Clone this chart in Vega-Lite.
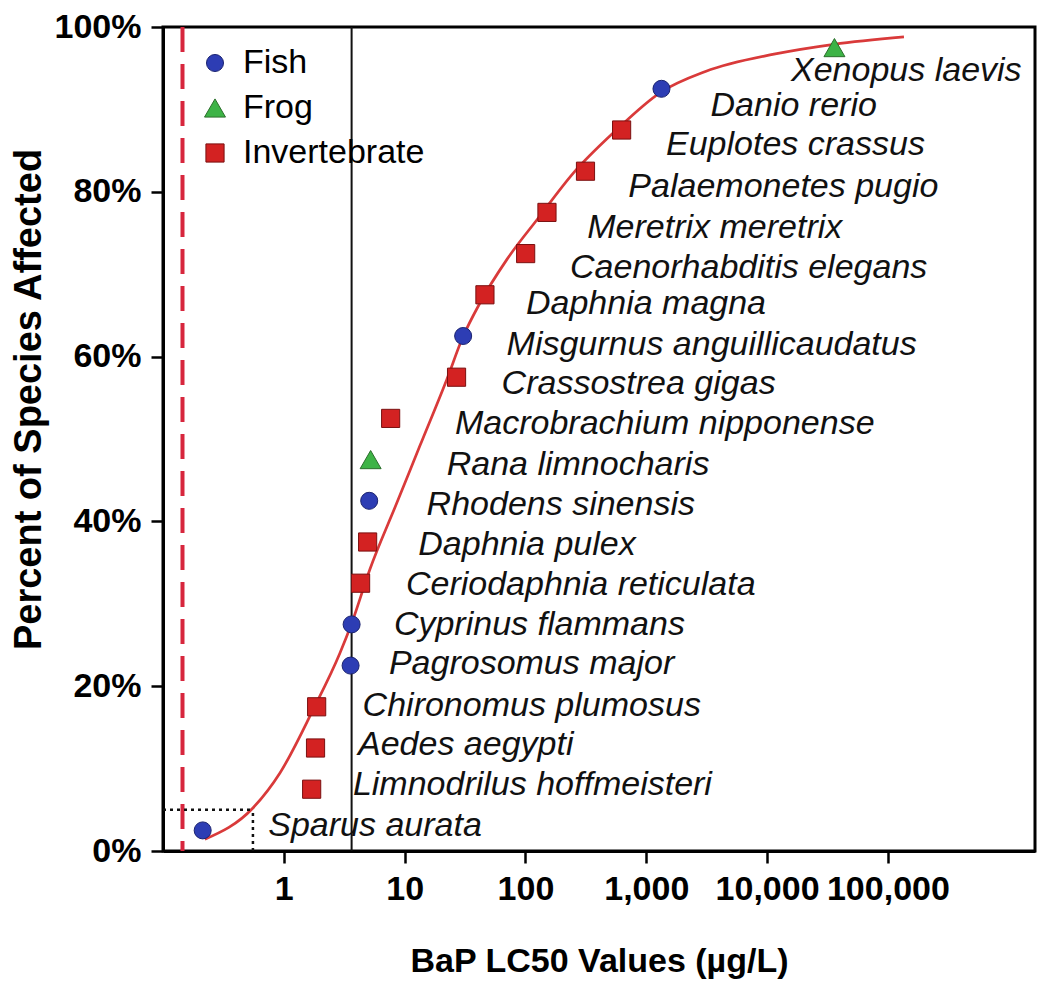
{
  "$schema": "https://vega.github.io/schema/vega-lite/v6.json",
  "width": 872,
  "height": 824,
  "autosize": {"type": "none"},
  "padding": {"left": 163, "top": 27, "right": 2, "bottom": 132},
  "background": "white",
  "config": {
    "view": {"stroke": "black", "strokeWidth": 3},
    "font": "Liberation Sans",
    "axis": {
      "grid": false,
      "domainColor": "black",
      "domainWidth": 3,
      "tickColor": "black",
      "tickWidth": 2.5,
      "tickSize": 12,
      "labelFont": "Liberation Sans",
      "labelFontSize": 34,
      "labelFontWeight": "bold",
      "labelColor": "black",
      "titleFont": "Liberation Sans",
      "titleFontWeight": "bold",
      "titleColor": "black"
    }
  },
  "datasets": {
    "species": [
      {"species": "Sparus aurata", "group": "Fish", "lc50": 0.213, "pct": 2.5, "labelX": 0.743, "labelPct": 3.0},
      {"species": "Limnodrilus hoffmeisteri", "group": "Invertebrate", "lc50": 1.70, "pct": 7.5, "labelX": 3.73, "labelPct": 8.0},
      {"species": "Aedes aegypti", "group": "Invertebrate", "lc50": 1.83, "pct": 12.5, "labelX": 4.11, "labelPct": 12.9},
      {"species": "Chironomus plumosus", "group": "Invertebrate", "lc50": 1.87, "pct": 17.5, "labelX": 4.49, "labelPct": 17.6},
      {"species": "Pagrosomus major", "group": "Fish", "lc50": 3.57, "pct": 22.5, "labelX": 7.41, "labelPct": 22.7},
      {"species": "Cyprinus flammans", "group": "Fish", "lc50": 3.64, "pct": 27.5, "labelX": 8.15, "labelPct": 27.4},
      {"species": "Ceriodaphnia reticulata", "group": "Invertebrate", "lc50": 4.32, "pct": 32.5, "labelX": 10.25, "labelPct": 32.3},
      {"species": "Daphnia pulex", "group": "Invertebrate", "lc50": 4.94, "pct": 37.5, "labelX": 12.97, "labelPct": 37.1},
      {"species": "Rhodens sinensis", "group": "Fish", "lc50": 5.09, "pct": 42.5, "labelX": 15.2, "labelPct": 42.0},
      {"species": "Rana limnocharis", "group": "Frog", "lc50": 5.23, "pct": 47.5, "labelX": 22.3, "labelPct": 46.9},
      {"species": "Macrobrachium nipponense", "group": "Invertebrate", "lc50": 7.66, "pct": 52.5, "labelX": 26.1, "labelPct": 51.8},
      {"species": "Crassostrea gigas", "group": "Invertebrate", "lc50": 26.9, "pct": 57.5, "labelX": 63.5, "labelPct": 56.7},
      {"species": "Misgurnus anguillicaudatus", "group": "Fish", "lc50": 30.5, "pct": 62.5, "labelX": 69.8, "labelPct": 61.4},
      {"species": "Daphnia magna", "group": "Invertebrate", "lc50": 46.2, "pct": 67.5, "labelX": 101, "labelPct": 66.4},
      {"species": "Caenorhabditis elegans", "group": "Invertebrate", "lc50": 100.4, "pct": 72.5, "labelX": 234, "labelPct": 70.8},
      {"species": "Meretrix meretrix", "group": "Invertebrate", "lc50": 150.7, "pct": 77.5, "labelX": 325, "labelPct": 75.6},
      {"species": "Palaemonetes pugio", "group": "Invertebrate", "lc50": 314, "pct": 82.5, "labelX": 711, "labelPct": 80.6},
      {"species": "Euplotes crassus", "group": "Invertebrate", "lc50": 625, "pct": 87.5, "labelX": 1456, "labelPct": 85.7},
      {"species": "Danio rerio", "group": "Fish", "lc50": 1336, "pct": 92.5, "labelX": 3404, "labelPct": 90.4},
      {"species": "Xenopus laevis", "group": "Frog", "lc50": 36100, "pct": 97.5, "labelX": 15780, "labelPct": 94.7}
    ],
    "curve": [
      {"conc": 0.222, "pct": 1.42},
      {"conc": 0.555, "pct": 5.22},
      {"conc": 0.929, "pct": 9.47},
      {"conc": 1.74, "pct": 17.1},
      {"conc": 2.91, "pct": 24.0},
      {"conc": 3.66, "pct": 27.7},
      {"conc": 5.16, "pct": 34.2},
      {"conc": 8.59, "pct": 42.2},
      {"conc": 13.4, "pct": 49.2},
      {"conc": 22.3, "pct": 57.2},
      {"conc": 30.4, "pct": 62.4},
      {"conc": 42.0, "pct": 66.5},
      {"conc": 70.3, "pct": 71.8},
      {"conc": 126, "pct": 76.7},
      {"conc": 250, "pct": 82.3},
      {"conc": 547, "pct": 87.3},
      {"conc": 1324, "pct": 92.1},
      {"conc": 3090, "pct": 94.6},
      {"conc": 11400, "pct": 96.7},
      {"conc": 35800, "pct": 97.9},
      {"conc": 135800, "pct": 98.8}
    ],
    "dashedRef": [{"conc": 0.145}],
    "solidRef": [{"conc": 3.64}],
    "hc5": [
      {"x": 0.1, "x2": 0.555, "y": 5, "y2": 5},
      {"x": 0.555, "x2": 0.555, "y": 0, "y2": 5}
    ]
  },
  "layer": [
    {
      "data": {"name": "curve"},
      "mark": {"type": "line", "color": "#d93a3a", "strokeWidth": 2.7, "interpolate": "monotone"},
      "encoding": {
        "x": {
          "field": "conc", "type": "quantitative",
          "title": "BaP LC50 Values (µg/L)",
          "scale": {"type": "log", "domain": [0.1, 1650000], "nice": false},
          "axis": {
            "values": [1, 10, 100, 1000, 10000, 100000],
            "format": ",",
            "labelPadding": 9,
            "titleFontSize": 34,
            "titlePadding": 38,
            "labelFlush": false,
            "labelOverlap": false
          }
        },
        "y": {
          "field": "pct", "type": "quantitative",
          "title": "Percent of Species Affected",
          "scale": {"domain": [0, 100], "nice": false},
          "axis": {
            "values": [0, 20, 40, 60, 80, 100],
            "labelExpr": "datum.value + '%'",
            "labelPadding": 10,
            "titleFontSize": 38,
            "titlePadding": 6,
            "titleY": 372,
            "labelFlush": false,
            "labelOverlap": false
          }
        }
      }
    },
    {
      "data": {"name": "dashedRef"},
      "mark": {"type": "rule", "color": "#d7263d", "strokeWidth": 4, "strokeDash": [25, 12]},
      "encoding": {
        "x": {"field": "conc", "type": "quantitative", "title": "BaP LC50 Values (µg/L)", "scale": {"type": "log", "domain": [0.1, 1650000], "nice": false}}
      }
    },
    {
      "data": {"name": "solidRef"},
      "mark": {"type": "rule", "color": "#111111", "strokeWidth": 2},
      "encoding": {
        "x": {"field": "conc", "type": "quantitative", "title": "BaP LC50 Values (µg/L)", "scale": {"type": "log", "domain": [0.1, 1650000], "nice": false}}
      }
    },
    {
      "data": {"name": "hc5"},
      "mark": {"type": "rule", "color": "#111111", "strokeWidth": 2.5, "strokeDash": [3, 4]},
      "encoding": {
        "x": {"field": "x", "type": "quantitative", "title": "BaP LC50 Values (µg/L)", "scale": {"type": "log", "domain": [0.1, 1650000], "nice": false}},
        "x2": {"field": "x2"},
        "y": {"field": "y", "type": "quantitative", "title": "Percent of Species Affected", "scale": {"domain": [0, 100], "nice": false}},
        "y2": {"field": "y2"}
      }
    },
    {
      "data": {"name": "species"},
      "mark": {"type": "point", "filled": true, "opacity": 1, "strokeWidth": 1},
      "encoding": {
        "x": {"field": "lc50", "type": "quantitative", "title": "BaP LC50 Values (µg/L)", "scale": {"type": "log", "domain": [0.1, 1650000], "nice": false}},
        "y": {"field": "pct", "type": "quantitative", "title": "Percent of Species Affected", "scale": {"domain": [0, 100], "nice": false}},
        "color": {
          "field": "group", "type": "nominal",
          "scale": {"domain": ["Fish", "Frog", "Invertebrate"], "range": ["#2d3db4", "#3db346", "#d32222"]},
          "legend": {
            "title": null,
            "orient": "none",
            "legendX": 35,
            "legendY": 19,
            "padding": 0,
            "labelFont": "Liberation Sans",
            "labelFontSize": 34,
            "labelColor": "black",
            "labelLimit": 400,
            "labelOffset": 11,
            "rowPadding": 11,
            "symbolSize": 320,
            "symbolStrokeWidth": 1,
            "symbolStrokeColor": "#333333"
          }
        },
        "shape": {
          "field": "group", "type": "nominal",
          "scale": {"domain": ["Fish", "Frog", "Invertebrate"], "range": ["circle", "triangle-up", "square"]},
          "legend": {
            "title": null,
            "orient": "none",
            "legendX": 35,
            "legendY": 19,
            "padding": 0,
            "labelFont": "Liberation Sans",
            "labelFontSize": 34,
            "labelColor": "black",
            "labelLimit": 400,
            "labelOffset": 11,
            "rowPadding": 11,
            "symbolSize": 320,
            "symbolStrokeWidth": 1,
            "symbolStrokeColor": "#333333"
          }
        },
        "stroke": {
          "field": "group", "type": "nominal",
          "scale": {"domain": ["Fish", "Frog", "Invertebrate"], "range": ["#1b2370", "#2b6e2b", "#7a1010"]},
          "legend": null
        },
        "size": {
          "field": "group", "type": "nominal",
          "scale": {"type": "ordinal", "domain": ["Fish", "Frog", "Invertebrate"], "range": [290, 440, 330]},
          "legend": null
        }
      }
    },
    {
      "data": {"name": "species"},
      "mark": {"type": "text", "align": "left", "baseline": "middle", "font": "Liberation Sans", "fontSize": 34, "fontStyle": "italic", "color": "#111111"},
      "encoding": {
        "x": {"field": "labelX", "type": "quantitative", "title": "BaP LC50 Values (µg/L)", "scale": {"type": "log", "domain": [0.1, 1650000], "nice": false}},
        "y": {"field": "labelPct", "type": "quantitative", "title": "Percent of Species Affected", "scale": {"domain": [0, 100], "nice": false}},
        "text": {"field": "species"}
      }
    }
  ]
}
